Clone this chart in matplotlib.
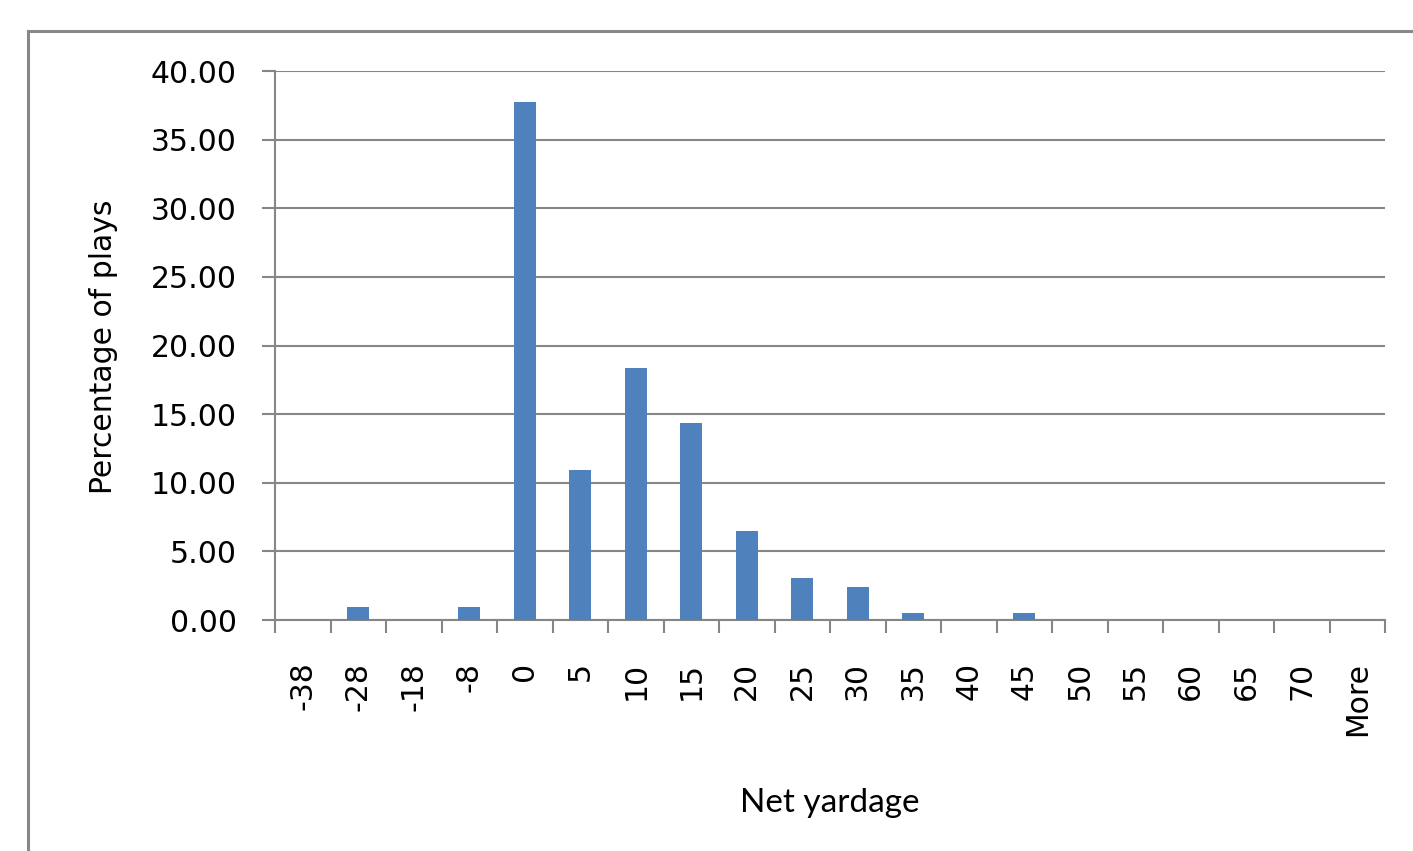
import matplotlib
matplotlib.use("Agg")
import matplotlib.pyplot as plt
from matplotlib.lines import Line2D
import numpy as np

# histogram bins (net yards) and share of plays in each, in percent
yardage_bins = ['-38', '-28', '-18', '-8', '0', '5', '10', '15', '20', '25',
                '30', '35', '40', '45', '50', '55', '60', '65', '70', 'More']
pct_plays = [0, 0.95, 0, 0.95, 37.74, 10.93, 18.36, 14.35, 6.48, 3.06,
             2.40, 0.51, 0, 0.51, 0, 0, 0, 0, 0, 0]
y_ticks = [0, 5, 10, 15, 20, 25, 30, 35, 40]

W, H = 1413, 851
grey = '#868686'
bar_blue = '#4F81BD'

fig = plt.figure(figsize=(W / 100, H / 100), dpi=100)

# chart area frame (only left and top edges fall inside the image)
bx, by = 27.5 / W, 1 - 30.5 / H
fig.add_artist(Line2D([bx, bx], [0, by], transform=fig.transFigure,
                      color='#888888', lw=2.2, solid_capstyle='projecting'))
fig.add_artist(Line2D([bx, 1], [by, by], transform=fig.transFigure,
                      color='#888888', lw=2.2, solid_capstyle='projecting'))

ax = fig.add_axes([275 / W, 1 - 620 / H, 1110 / W, 549 / H])

x = np.arange(len(yardage_bins))
ax.bar(x, pct_plays, width=0.4, color=bar_blue, zorder=3)

ax.set_xlim(-0.5, len(yardage_bins) - 0.5)
ax.set_ylim(0, 40)

# horizontal gridlines at every y tick
ax.set_yticks(y_ticks)
ax.set_yticklabels(['%.2f' % v for v in y_ticks])
ax.yaxis.grid(True, color=grey, lw=1.5, zorder=0)
ax.set_axisbelow(True)

# tick marks between categories, labels under category centres
ax.set_xticks(np.arange(-0.5, len(yardage_bins), 1.0))
ax.set_xticklabels([])
ax.set_xticks(x, minor=True)
ax.set_xticklabels(yardage_bins, minor=True, rotation=90)

for side in ('top', 'right'):
    ax.spines[side].set_visible(False)
for side in ('left', 'bottom'):
    ax.spines[side].set_color(grey)
    ax.spines[side].set_linewidth(1.5)

ax.tick_params(axis='y', direction='out', length=9.4, width=1.5, color=grey,
               pad=18, labelsize=21.5, labelcolor='black')
ax.tick_params(axis='x', which='major', direction='out', length=9.4,
               width=1.5, color=grey)
ax.tick_params(axis='x', which='minor', length=0, pad=30, labelsize=21.5,
               labelcolor='black')

fig.text(104 / W, 1 - 347 / H, 'Percentage of plays', rotation=90,
         ha='center', va='center', fontsize=21.5, family='DejaVu Sans')
fig.text(830 / W, 1 - 812 / H, 'Net yardage', ha='center', va='baseline',
         fontsize=24, family='Lato')

fig.savefig('out.png', dpi=100)
